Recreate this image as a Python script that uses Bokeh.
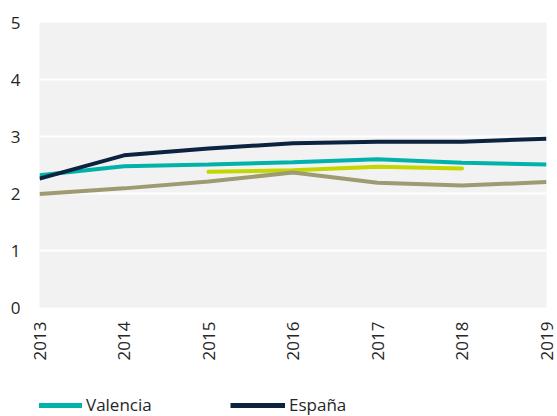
import math
from bokeh.plotting import figure
from bokeh.layouts import column
from bokeh.models import Range1d, FixedTicker, Legend, LegendItem
from bokeh.embed import file_html
from bokeh.resources import INLINE

years = [2013, 2014, 2015, 2016, 2017, 2018, 2019]
valencia = [2.32, 2.48, 2.51, 2.55, 2.60, 2.54, 2.51]
espana = [2.26, 2.67, 2.79, 2.88, 2.91, 2.91, 2.96]
serie3_years = [2015, 2016, 2017, 2018]
serie3 = [2.38, 2.41, 2.47, 2.44]
serie4 = [1.99, 2.09, 2.21, 2.37, 2.19, 2.14, 2.20]
y_ticks = [0, 1, 2, 3, 4, 5]
legend_labels = ["Valencia", "España"]

FONT = "Open Sans"
TXT = "#262626"
C_VAL, C_ESP, C_3, C_4 = "#00B2A9", "#0C2340", "#C4D600", "#9E9B73"

p = figure(width=557, height=380, output_backend="svg", toolbar_location=None,
           x_range=Range1d(2013, 2019), y_range=Range1d(0, 5),
           min_border_left=39, min_border_right=11, min_border_top=22, min_border_bottom=73)
p.background_fill_color = "#f2f2f2"
p.border_fill_color = "white"
p.outline_line_color = None

p.xgrid.grid_line_color = None
p.ygrid.grid_line_color = "white"
p.ygrid.grid_line_width = 2
p.ygrid.ticker = FixedTicker(ticks=y_ticks)

p.yaxis.ticker = FixedTicker(ticks=y_ticks)
p.xaxis.ticker = FixedTicker(ticks=years)
for ax in (p.xaxis, p.yaxis):
    ax.axis_line_color = None
    ax.major_tick_line_color = None
    ax.minor_tick_line_color = None
    ax.major_tick_out = 0
    ax.major_tick_in = 0
    ax.major_label_text_font = FONT
    ax.major_label_text_font_size = "17px"
    ax.major_label_text_color = TXT
p.yaxis.major_label_standoff = 19
p.xaxis.major_label_standoff = 14
p.xaxis.major_label_orientation = math.pi / 2

p.line(years, valencia, line_color=C_VAL, line_width=4)
p.line(years, espana, line_color=C_ESP, line_width=4)
p.line(serie3_years, serie3, line_color=C_3, line_width=4, line_cap="round")
p.line(years, serie4, line_color=C_4, line_width=4)

# legend strip below the chart (its lines lie outside this strip's ranges, so only the legend shows)
lg = figure(width=557, height=36, output_backend="svg", toolbar_location=None,
            x_range=Range1d(0, 1), y_range=Range1d(0, 1),
            x_axis_location=None, y_axis_location=None,
            min_border_left=0, min_border_right=0, min_border_top=0, min_border_bottom=0)
lg.outline_line_color = None
lg.xgrid.visible = False
lg.ygrid.visible = False
lr_val = lg.line(years, valencia, line_color=C_VAL, line_width=5)
lr_esp = lg.line(years, espana, line_color=C_ESP, line_width=5)

legend = Legend(items=[LegendItem(label=legend_labels[0], renderers=[lr_val]),
                       LegendItem(label=legend_labels[1], renderers=[lr_esp])],
                location=(-12, 0), orientation="horizontal",
                glyph_width=55, glyph_height=18, label_standoff=4, label_width=141,
                label_height=18, spacing=3, padding=0, margin=0, border_line_color=None,
                background_fill_alpha=0, label_text_font=FONT,
                label_text_font_size="17px", label_text_color=TXT)
lg.add_layout(legend, "center")

layout = column(p, lg, spacing=0)
open("out.html", "w").write(file_html(layout, INLINE))
